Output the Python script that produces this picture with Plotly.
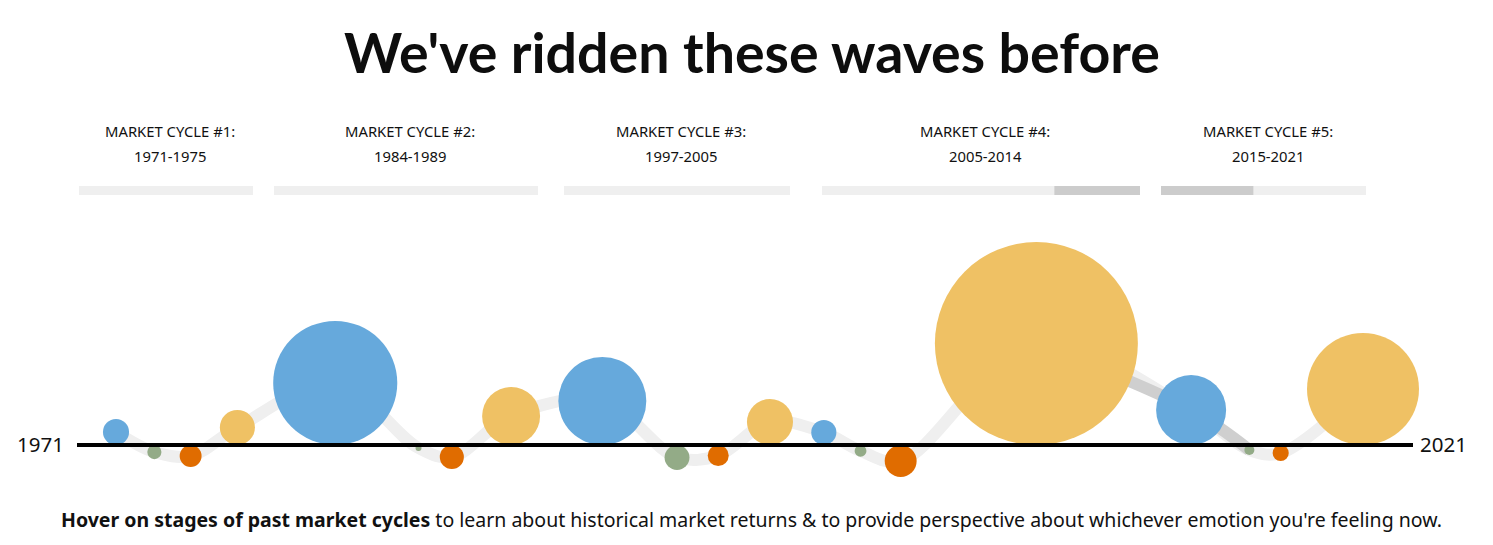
import numpy as np
import plotly.graph_objects as go

# ---------------- data ----------------
title_text = "We've ridden these waves before"
cycle_labels = ["MARKET CYCLE #1:", "MARKET CYCLE #2:", "MARKET CYCLE #3:",
                "MARKET CYCLE #4:", "MARKET CYCLE #5:"]
cycle_years = ["1971-1975", "1984-1989", "1997-2005", "2005-2014", "2015-2021"]
stage_names = ["Optimism", "Anxiety", "Fear", "Excitement"]
# magnitude of each stage (sign: up = rising stage, down = falling stage)
cycle1_values = [6.8, -2.0, -4.8, 12.3]
cycle2_values = [154.0, -0.36, -5.8, 33.6]
cycle3_values = [77.4, -6.2, -4.4, 21.2]
cycle4_values = [6.3, -1.4, -10.2, 412.0]
cycle5_values = [49.0, -1.0, -2.6, 125.4]
start_label = "1971"
end_label = "2021"
footer_bold = "Hover on stages of past market cycles"
footer_rest = (" to learn about historical market returns & to provide perspective "
               "about whichever emotion you're feeling now.")
# highlighted stretch: from cycle 4 stage 4 to cycle 5 stage 2
highlight_from = (3, 3)
highlight_to = (4, 1)

# ---------------- styles / layout ----------------
W, H = 1493, 545
BASE_PX = 445            # pixel row of the baseline
stage_colors = ["#66a9dc", "#93ab87", "#e06c00", "#efc164"]
band_color = "#efefef"
band_dark = "#cfcfcf"
TITLE_FONT = "Lato"
TEXT_FONT = "Noto Sans"
first_center_px = 116
last_center_px = 1363
line_x0, line_x1 = 77, 1413
header_spans = [(79, 253), (274, 538), (564, 790), (822, 1140), (1161, 1366)]

def radius(v):
    return 5.0 * np.sqrt(abs(v))

all_cycles = [cycle1_values, cycle2_values, cycle3_values, cycle4_values, cycle5_values]
vals, cyc_idx, stg_idx = [], [], []
for ci, cv in enumerate(all_cycles):
    for si, v in enumerate(cv):
        vals.append(v)
        cyc_idx.append(ci)
        stg_idx.append(si)
vals = np.array(vals)
r = radius(vals)
n = len(vals)
pair_sum = np.sum(r[:-1] + r[1:])
gap = (last_center_px - first_center_px - pair_sum) / (n - 1)
xc = [first_center_px]
for i in range(1, n):
    xc.append(xc[-1] + r[i - 1] + gap + r[i])
xc = np.array(xc)
yc = np.sign(vals) * r   # bubbles sit on / hang from the baseline (1 unit = 1 px)

fig = go.Figure()

# wave band
fig.add_trace(go.Scatter(x=xc, y=yc, mode="lines",
                         line=dict(color=band_color, width=12, shape="spline"),
                         hoverinfo="skip", showlegend=False))
i0 = highlight_from[0] * 4 + highlight_from[1]
i1 = highlight_to[0] * 4 + highlight_to[1]
fig.add_trace(go.Scatter(x=xc[i0:i1 + 1], y=yc[i0:i1 + 1], mode="lines",
                         line=dict(color=band_dark, width=12, shape="spline"),
                         hoverinfo="skip", showlegend=False))

# bubbles
fig.add_trace(go.Scatter(
    x=xc, y=yc, mode="markers",
    marker=dict(size=2 * r, sizemode="diameter",
                color=[stage_colors[s] for s in stg_idx], line=dict(width=0),
                opacity=1),
    customdata=np.stack([[cycle_years[c] for c in cyc_idx],
                         [stage_names[s] for s in stg_idx], vals], axis=-1),
    hovertemplate="%{customdata[0]}<br>%{customdata[1]}: %{customdata[2]}%<extra></extra>",
    showlegend=False))

# baseline
fig.add_trace(go.Scatter(x=[line_x0, line_x1], y=[0, 0], mode="lines",
                         line=dict(color="#000000", width=4),
                         hoverinfo="skip", showlegend=False))

shapes = []
bar_y0, bar_y1 = BASE_PX - 195, BASE_PX - 186
hx0, hx1 = xc[i0] + 18, xc[i1] + 4
for (a, b) in header_spans:
    shapes.append(dict(type="rect", xref="x", yref="y", x0=a, x1=b, y0=bar_y0, y1=bar_y1,
                       fillcolor=band_color, line=dict(width=0), layer="below"))
    lo, hi = max(a, hx0), min(b, hx1)
    if hi > lo:
        shapes.append(dict(type="rect", xref="x", yref="y", x0=lo, x1=hi, y0=bar_y0, y1=bar_y1,
                           fillcolor="#cccccc", line=dict(width=0), layer="below"))

ann = []
ann.append(dict(text=title_text, x=752, y=BASE_PX - 51, xref="x", yref="y",
                showarrow=False, xanchor="center", yanchor="middle",
                font=dict(family=TITLE_FONT, size=55.5, color="#0d0d0d", weight=700)))
for k, (a, b) in enumerate(header_spans):
    cx = (a + b) / 2 + 4
    ann.append(dict(text=cycle_labels[k], x=cx, y=BASE_PX - 131, xref="x", yref="y",
                    showarrow=False, xanchor="center", yanchor="middle",
                    font=dict(family=TEXT_FONT, size=14.8, color="#111111")))
    ann.append(dict(text=cycle_years[k], x=cx, y=BASE_PX - 156, xref="x", yref="y",
                    showarrow=False, xanchor="center", yanchor="middle",
                    font=dict(family=TEXT_FONT, size=14.8, color="#111111")))
ann.append(dict(text=start_label, x=40, y=1, xref="x", yref="y", showarrow=False,
                xanchor="center", yanchor="middle",
                font=dict(family=TEXT_FONT, size=20.5, color="#111111")))
ann.append(dict(text=end_label, x=1443, y=1, xref="x", yref="y", showarrow=False,
                xanchor="center", yanchor="middle",
                font=dict(family=TEXT_FONT, size=20.5, color="#111111")))
ann.append(dict(text="<b>" + footer_bold + "</b>" + footer_rest, x=751, y=BASE_PX - 519,
                xref="x", yref="y", showarrow=False, xanchor="center", yanchor="middle",
                font=dict(family=TEXT_FONT, size=19.5, color="#111111")))

fig.update_layout(
    width=W, height=H, autosize=False,
    margin=dict(l=0, r=0, t=0, b=0, pad=0),
    paper_bgcolor="white", plot_bgcolor="white",
    xaxis=dict(range=[0, W], visible=False, fixedrange=True),
    yaxis=dict(range=[BASE_PX - H, BASE_PX], visible=False, fixedrange=True),
    shapes=shapes, annotations=ann, showlegend=False,
)

fig.write_html("out.html", config={"displayModeBar": False},
               post_script="document.body.style.margin='0';")
